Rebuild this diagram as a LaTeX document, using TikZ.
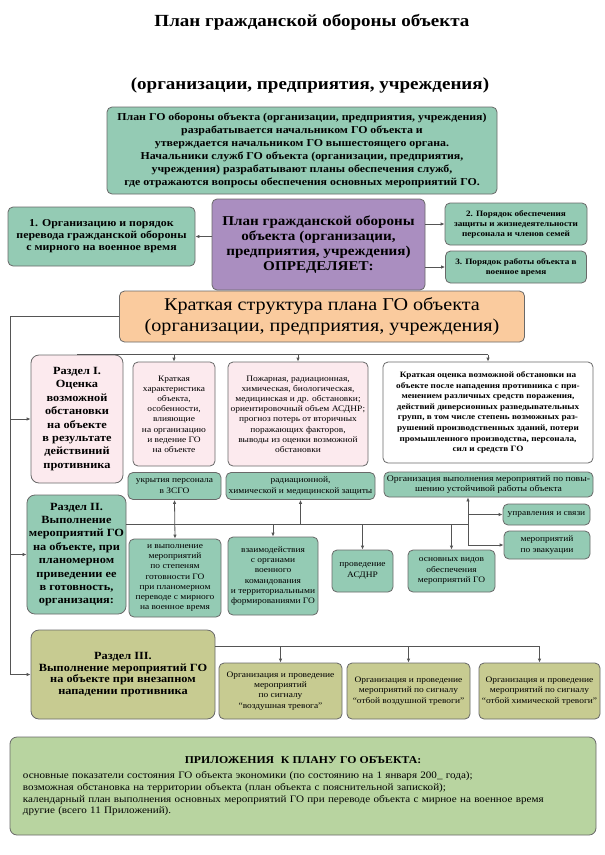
\documentclass[tikz,border=0pt]{standalone}
\usepackage{fontspec}
\setmainfont{Liberation Serif}[FakeStretch=1.12]
\usepackage{tikz}
\usetikzlibrary{calc}
\usetikzlibrary{positioning}
\usetikzlibrary{arrows.meta}

\definecolor{mint}{RGB}{148,203,180}
\definecolor{lilac}{RGB}{170,142,192}
\definecolor{peach}{RGB}{250,203,158}
\definecolor{blush}{RGB}{252,234,238}
\definecolor{olive}{RGB}{199,203,145}
\definecolor{sage}{RGB}{184,212,160}
\definecolor{edge}{RGB}{105,105,105}
\definecolor{wire}{RGB}{85,85,85}

\begin{document}
\begin{tikzpicture}[x=1pt,y=-1pt,every node/.style = {align=center},
box/.style={draw=edge,line width=0.8pt,rounded corners=5pt,inner sep=2pt},
greenbox/.style={box,fill=mint},
pinkbox/.style={box,fill=blush},
olivebox/.style={box,fill=olive},
razdel/.style={box,rounded corners=8pt,font=\fontsize{11}{13.4}\selectfont\bfseries},
small/.style={font=\fontsize{8.4}{10.2}\selectfont},
line/.style={draw=wire,line width=0.8pt},
>={Latex[length=4pt,width=3.5pt]}]
\path[use as bounding box,fill=white] (0,0) rectangle (605,855);

% titles
\node[font=\fontsize{17}{20}\selectfont\bfseries] (title) at (312,22) {План гражданской обороны объекта};
\node[font=\fontsize{17}{20}\selectfont\bfseries] (subtitle) at (310,85) {(организации, предприятия, учреждения)};

% who writes the plan
\node[greenbox,minimum width=390pt,minimum height=87pt,font=\fontsize{10.6}{13}\selectfont\bfseries] (who) at (302,150.5)
  {План ГО обороны объекта (организации, предприятия,  учреждения)\\
   разрабатывается начальником ГО объекта  и\\
   утверждается начальником ГО вышестоящего органа.\\
   Начальники служб ГО объекта (организации, предприятия,\\
   учреждения)  разрабатывают планы обеспечения служб,\\
   где отражаются  вопросы обеспечения основных мероприятий ГО.};

% what the plan defines
\node[box,fill=lilac,minimum width=213pt,minimum height=91pt,font=\fontsize{13.5}{15.2}\selectfont\bfseries] (plan) at (318.5,244.5)
  {План гражданской обороны\\ объекта (организации,\\ предприятия, учреждения)\\ ОПРЕДЕЛЯЕТ:};
\node[greenbox,minimum width=187pt,minimum height=59pt,font=\fontsize{10.6}{11.9}\selectfont\bfseries] (p1) at (101.5,236.5)
  {1. Организацию и порядок\\ перевода  гражданской обороны\\ с мирного на военное время};
\node[greenbox,minimum width=142pt,minimum height=42pt,font=\fontsize{8.2}{10}\selectfont\bfseries] (p2) at (516,224)
  {2. Порядок обеспечения\\ защиты и жизнедеятельности\\ персонала и членов семей};
\node[greenbox,minimum width=141pt,minimum height=32pt,font=\fontsize{8.2}{10}\selectfont\bfseries] (p3) at (516,267)
  {3. Порядок работы объекта в\\ военное время};
\draw[line,->] (plan.west |- p1.east) -- (p1.east);
\draw[line,->] (plan.east |- p2.west) -- (p2.west);
\draw[line,->] (plan.east |- p3.west) -- (p3.west);

% structure
\node[box,fill=peach,minimum width=405pt,minimum height=51pt,font=\fontsize{18}{21}\selectfont] (struct) at (322,316.5)
  {Краткая структура плана ГО объекта\\ (организации, предприятия, учреждения)};

% section I
\node[razdel,fill=blush,minimum width=92pt,minimum height=128pt] (r1) at (77,419)
  {Раздел I.\\ Оценка\\ возможной\\ обстановки\\ на объекте\\ в результате\\ действиний\\ противника};
\node[pinkbox,small,minimum width=82pt,minimum height=104pt] (k1) at (174,414)
  {Краткая\\ характеристика\\ объекта,\\ особенности,\\ влияющие\\ на организацию\\ и ведение ГО\\ на объекте};
\node[pinkbox,small,minimum width=140pt,minimum height=104pt] (k2) at (298,414)
  {Пожарная, радиационная,\\ химическая, биологическая,\\ медицинская и др. обстановки;\\ ориентировочный объем АСДНР;\\ прогноз потерь от вторичных\\ поражающих факторов,\\ выводы из оценки возможной\\ обстановки};
\node[box,fill=white,minimum width=210pt,minimum height=101pt,font=\fontsize{8.2}{10.6}\selectfont\bfseries] (k3) at (488,412.5)
  {Краткая оценка возможной обстановки на\\ объекте после нападения противника с при-\\ менением различных средств поражения,\\ действий диверсионных разведывательных\\ групп, в том числе степень возможных раз-\\ рушений производственных зданий, потери\\ промышленного производства, персонала,\\ сил и средств ГО};
\draw[line] (r1.north) -- (r1.north -| k3.north);
\draw[line,->] (r1.north -| k1.north) -- (k1.north);
\draw[line,->] (r1.north -| k2.north) -- (k2.north);
\draw[line,->] (r1.north -| k3.north) -- (k3.north);

% section II
\node[razdel,fill=mint,minimum width=99pt,minimum height=119pt] (r2) at (76.5,554.5)
  {Раздел II.\\ Выполнение\\ мероприятий ГО\\ на объекте, при\\ планомерном\\ приведении ее\\ в готовность,\\ организация:};
\node[greenbox,small,minimum width=93pt,minimum height=27pt] (u1) at (174.5,486) {укрытия персонала\\ в ЗСГО};
\node[greenbox,small,minimum width=149pt,minimum height=27pt] (u2) at (300.5,486) {радиационной,\\ химической и медицинской защиты};
\node[greenbox,minimum width=209pt,minimum height=25pt,font=\fontsize{8.7}{10.4}\selectfont] (u3) at (488.5,484.5)
  {Организация выполнения мероприятий по повы-\\ шению устойчивой работы объекта};
\node[greenbox,small,minimum width=92pt,minimum height=78pt] (v1) at (175,578)
  {и выполнение\\ мероприятий\\ по степеням\\ готовности ГО\\ при планомерном\\ переводе с мирного\\ на военное время};
\node[greenbox,small,minimum width=90pt,minimum height=78pt] (v2) at (273,576)
  {взаимодействия\\ с органами\\ военного\\ командования\\ и территориальными\\ формированиями ГО};
\node[greenbox,small,minimum width=61pt,minimum height=42pt] (v3) at (362.5,571) {проведение\\ АСДНР};
\node[greenbox,small,minimum width=87pt,minimum height=42pt] (v4) at (451.5,571) {основных видов\\ обеспечения\\ мероприятий ГО};
\node[greenbox,small,minimum width=87pt,minimum height=21pt] (s1) at (546.5,514.5) {управления и связи};
\node[greenbox,small,minimum width=86pt,minimum height=28pt] (s2) at (547,545) {мероприятий\\ по эвакуации};
\coordinate (bus2) at (468,524);
\draw[line] (r2.east |- bus2) -- (bus2);
\draw[line,<->] (u1.south) -- (v1.north);
\draw[line,->] (u2.south |- bus2) -- (u2.south);
\draw[line,->] (v2.north |- bus2) -- (v2.north);
\draw[line,->] (v3.north |- bus2) -- (v3.north);
\draw[line,->] (v4.north |- bus2) -- (v4.north);
\draw[line,->] (bus2 |- s2.west) -- (bus2 |- u3.south);
\draw[line,->] (bus2 |- s1.west) -- (s1.west);
\draw[line,->] (bus2 |- s2.west) -- (s2.west);

% section III
\node[razdel,fill=olive,minimum width=184pt,minimum height=89pt,font=\fontsize{11}{11.8}\selectfont\bfseries] (r3) at (123,674.5)
  {Раздел III.\\ Выполнение  мероприятий ГО\\ на объекте  при внезапном\\ нападении  противника};
\node[olivebox,small,minimum width=123pt,minimum height=56pt] (t1) at (280.5,691)
  {Организация и проведение\\ мероприятий\\ по сигналу\\ “воздушная тревога”};
\node[olivebox,small,minimum width=123pt,minimum height=56pt] (t2) at (408.5,691)
  {Организация и проведение\\ мероприятий по сигналу\\ “отбой воздушной тревоги”};
\node[olivebox,small,minimum width=121pt,minimum height=56pt] (t3) at (539.5,691)
  {Организация и проведение\\ мероприятий по сигналу\\ “отбой химической тревоги”};
\coordinate (bus3) at (215,646);
\draw[line] (bus3) -- (bus3 -| t3.north);
\draw[line,->] (bus3 -| t1.north) -- (t1.north);
\draw[line,->] (bus3 -| t2.north) -- (t2.north);
\draw[line,->] (bus3 -| t3.north) -- (t3.north);

% left spine from the structure box
\coordinate (spine) at (10,316.5);
\draw[line,->] (struct.west) -- (spine) |- (r3.west);
\draw[line,->] (spine |- r1.west) -- (r1.west);
\draw[line,->] (spine |- r2.west) -- (r2.west);

% appendices
\node[box,fill=sage,rounded corners=7pt,minimum width=586pt,minimum height=98pt,text width=560pt,align=left,
  font=\fontsize{9.9}{11.7}\selectfont] (app) at (303,786)
  {\makebox[\hsize]{\fontsize{10.5}{12}\selectfont\bfseries ПРИЛОЖЕНИЯ~ К ПЛАНУ ГО ОБЪЕКТА:}\\[4pt]
   основные показатели состояния ГО объекта экономики (по состоянию на 1 января 200\_ года);\\
   возможная обстановка на территории объекта (план объекта с пояснительной запиской);\\
   календарный план выполнения основных мероприятий ГО при переводе объекта с мирное на военное время\\
   другие (всего 11 Приложений).};
\end{tikzpicture}
\end{document}
